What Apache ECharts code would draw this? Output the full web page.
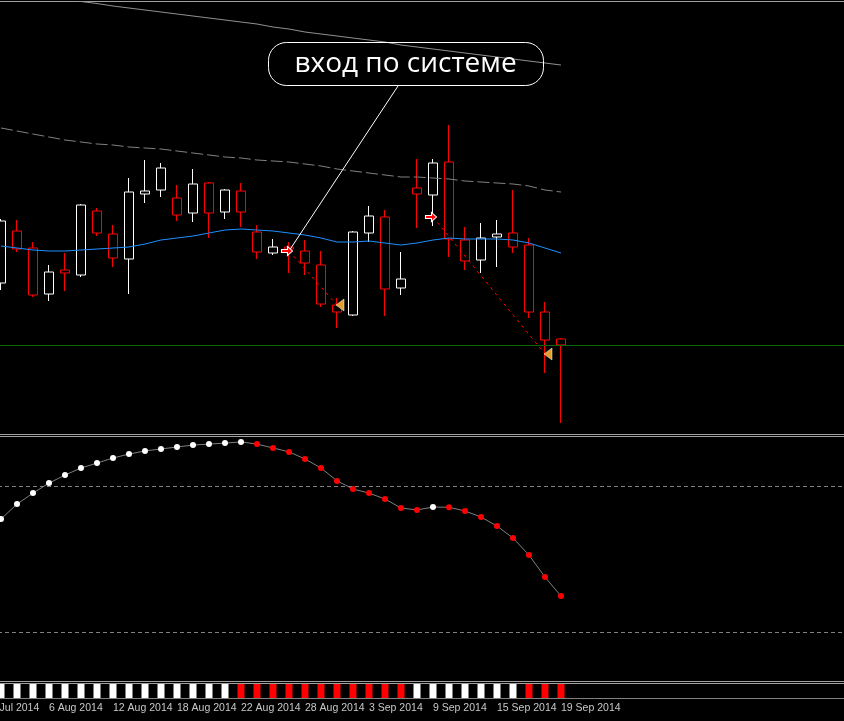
<!DOCTYPE html>
<html>
<head>
<meta charset="utf-8">
<script src="https://cdn.jsdelivr.net/npm/echarts@6/dist/echarts.min.js"></script>
<style>
  html, body { margin: 0; padding: 0; background: #000; }
  #main { width: 844px; height: 721px; }
</style>
</head>
<body>
<div id="main"></div>
<script>
// daily bars, 31 Jul is only there for the cut label on the left
var dates = ['31 Jul 2014', '1 Aug 2014', '4 Aug 2014', '5 Aug 2014', '6 Aug 2014', '7 Aug 2014', '8 Aug 2014',
  '11 Aug 2014', '12 Aug 2014', '13 Aug 2014', '14 Aug 2014', '15 Aug 2014',
  '18 Aug 2014', '19 Aug 2014', '20 Aug 2014', '21 Aug 2014', '22 Aug 2014',
  '25 Aug 2014', '26 Aug 2014', '27 Aug 2014', '28 Aug 2014', '29 Aug 2014',
  '1 Sep 2014', '2 Sep 2014', '3 Sep 2014', '4 Sep 2014', '5 Sep 2014',
  '8 Sep 2014', '9 Sep 2014', '10 Sep 2014', '11 Sep 2014', '12 Sep 2014',
  '15 Sep 2014', '16 Sep 2014', '17 Sep 2014', '18 Sep 2014', '19 Sep 2014'];

// prices in points, 1 Aug .. 19 Sep
var open  = [151, 203, 186, 140, 164, 159, 223, 200, 175, 240, 244, 236, 221, 251, 222, 243, 202, 181, 187, 183,
             169, 129, 119, 201, 217, 146, 246, 239, 272, 194, 174, 197, 201, 189, 122, 95];
var close = [213, 185, 139, 162, 161, 229, 201, 176, 242, 243, 266, 219, 250, 221, 244, 222, 182, 187, 185, 171,
             130, 122, 202, 218, 145, 155, 240, 271, 195, 173, 196, 200, 187, 122, 94, 89];
var low   = [144, 182, 137, 133, 143, 157, 198, 167, 140, 231, 237, 213, 212, 196, 215, 207, 175, 179, 161, 159,
             127, 106, 118, 192, 118, 139, 206, 208, 177, 164, 161, 167, 181, 116, 61, 11];
var high  = [215, 214, 192, 169, 181, 230, 226, 209, 256, 274, 271, 249, 265, 252, 245, 251, 209, 195, 192, 194,
             183, 136, 203, 228, 224, 182, 275, 275, 309, 207, 211, 214, 244, 196, 132, 96];

// moving averages
var maFast = [188, 186, 184, 183, 183, 184, 185, 186, 187, 190, 194, 196, 198, 201, 204, 205, 204, 203, 201, 199,
              196, 192, 192, 193, 191, 189, 191, 194, 196, 195, 195, 195, 194, 191, 186, 181];
var maMid  = [306, 303, 300, 297, 294, 292, 290, 289, 287, 286, 285, 283, 281, 279, 277, 276, 274, 273, 272, 270,
              268, 265, 263, 261, 259, 257, 257, 256, 255, 253, 252, 251, 250, 248, 244, 242];
var maSlow = [442, 440, 438, 437, 435, 432.5, 430.5, 428, 426, 424, 422, 420, 418, 416, 414, 412, 410, 407, 405, 402,
              400, 398, 396, 394, 392, 389, 387, 385, 383, 381, 379, 377, 375, 373, 371, 369];
var bid = 89;

// trades (sell): open and close
var tradeOpenDate   = ['27 Aug 2014', '9 Sep 2014'];
var tradeOpenPrice  = [183, 217];
var tradeCloseDate  = ['1 Sep 2014', '18 Sep 2014'];
var tradeClosePrice = [129, 80];

// oscillator 0..100 with levels
var osc = [66.4, 72.5, 77.0, 81.1, 84.4, 87.3, 89.3, 91.4, 93.0, 94.3, 95.1, 95.9, 96.7, 97.1, 97.5, 98.0, 97.1, 95.5,
           93.9, 91.0, 87.3, 82.0, 78.7, 77.0, 74.6, 70.9, 70.1, 71.3, 71.2, 69.7, 67.2, 63.5, 58.6, 51.6, 42.6, 34.8];
var oscState = [1, 1, 1, 1, 1, 1, 1, 1, 1, 1, 1, 1, 1, 1, 1, 1, -1, -1, -1, -1, -1, -1, -1, -1, -1, -1, -1,
                1, -1, -1, -1, -1, -1, -1, -1, -1];
var oscLevels = [80, 20];

// trend strip at the bottom
var stripSignal = [1, 1, 1, 1, 1, 1, 1, 1, 1, 1, 1, 1, 1, 1, 1, -1, -1, -1, -1, -1, -1, -1, -1, -1, -1, -1,
                   1, 1, 1, 1, 1, 1, 1, -1, -1, -1];

// empty slots on the right of the last bar
var slots = dates.concat(new Array(18).fill(''));

var candles = [['-', '-', '-', '-']];
for (var i = 0; i < open.length; i++) {
  candles.push([open[i], close[i], low[i], high[i]]);
}
function pad(arr) { return ['-'].concat(arr); }

var oscData = ['-'];
for (var i = 0; i < osc.length; i++) {
  oscData.push({ value: osc[i], itemStyle: { color: oscState[i] > 0 ? '#ffffff' : '#ff0000' } });
}
var stripData = ['-'];
for (var i = 0; i < stripSignal.length; i++) {
  stripData.push({ value: 1, itemStyle: { color: stripSignal[i] > 0 ? '#ffffff' : '#ff0000' } });
}

var tradeLines = [], tradeMarks = [];
for (var i = 0; i < tradeOpenDate.length; i++) {
  tradeLines.push([
    { coord: [tradeOpenDate[i], tradeOpenPrice[i]], lineStyle: { color: '#ff0000', type: [3, 4], width: 1 } },
    { coord: [tradeCloseDate[i], tradeClosePrice[i]] }
  ]);
  tradeMarks.push({
    coord: [tradeOpenDate[i], tradeOpenPrice[i]],
    symbol: 'path://M0,3L6,3L6,0L11,4.5L6,9L6,6L0,6Z', symbolSize: [11, 9], symbolOffset: [-2, 0],
    itemStyle: { color: '#ff0000', borderColor: '#ffffff', borderWidth: 1 }
  });
  tradeMarks.push({
    coord: [tradeCloseDate[i], tradeClosePrice[i]],
    symbol: 'triangle', symbolRotate: 90, symbolSize: [12, 8], symbolOffset: [3, 0],
    itemStyle: { color: '#e0a030', borderColor: '#fff4d0', borderWidth: 0.5 }
  });
}
// callout from the text box to the first entry
tradeLines.push([
  { coord: [tradeOpenDate[0], tradeOpenPrice[0]], lineStyle: { color: '#ffffff', type: 'solid', width: 1 } },
  { x: 398, y: 86 }
]);

var gridW = slots.length * 16;
var myChart = echarts.init(document.getElementById('main'));
var option = {
  backgroundColor: '#000',
  animation: false,
  grid: [
    { left: -23, top: 2, width: gridW, height: 432, outerBoundsMode: 'none', containLabel: false },
    { left: -23, top: 437, width: gridW, height: 244, outerBoundsMode: 'none', containLabel: false },
    { left: -23, top: 684, width: gridW, height: 14, outerBoundsMode: 'none', containLabel: false }
  ],
  xAxis: [
    { type: 'category', gridIndex: 0, data: slots, show: false },
    { type: 'category', gridIndex: 1, data: slots, show: false },
    {
      type: 'category', gridIndex: 2, data: slots,
      axisLine: { lineStyle: { color: '#808080', width: 1 } },
      axisTick: {
        alignWithLabel: true, length: 4, lineStyle: { color: '#808080' },
        interval: function (idx, val) { return idx % 4 === 0 && val !== ''; }
      },
      axisLabel: {
        color: '#c8c8c8', fontFamily: 'Liberation Sans', fontSize: 10.5, align: 'left', margin: 5,
        hideOverlap: false,
        interval: function (idx, val) { return idx % 4 === 0 && val !== ''; }
      }
    }
  ],
  yAxis: [
    { type: 'value', gridIndex: 0, min: 0, max: 432, show: false },
    { type: 'value', gridIndex: 1, min: 0, max: 100, show: false },
    { type: 'value', gridIndex: 2, min: 0, max: 1, show: false }
  ],
  series: [
    {
      type: 'line', xAxisIndex: 0, yAxisIndex: 0, data: pad(maSlow), symbol: 'none',
      lineStyle: { color: '#909090', width: 1 }
    },
    {
      type: 'line', xAxisIndex: 0, yAxisIndex: 0, data: pad(maMid), symbol: 'none',
      lineStyle: { color: '#808080', width: 1, type: [12, 4] }
    },
    {
      type: 'line', xAxisIndex: 0, yAxisIndex: 0, data: pad(maFast), symbol: 'none',
      lineStyle: { color: '#1e90ff', width: 1 },
      markLine: {
        silent: true, symbol: ['none', 'none'], label: { show: false },
        lineStyle: { color: '#0a6a0a', type: 'solid', width: 1 },
        data: [{ yAxis: bid }]
      }
    },
    {
      type: 'candlestick', xAxisIndex: 0, yAxisIndex: 0, data: candles, barWidth: 9,
      itemStyle: { color: '#000', color0: '#000', borderColor: '#ffffff', borderColor0: '#ff0000', borderWidth: 1 },
      markLine: {
        silent: true, symbol: ['none', 'none'], label: { show: false },
        data: tradeLines
      },
      markPoint: {
        silent: true, label: { show: false },
        data: tradeMarks
      }
    },
    {
      type: 'line', xAxisIndex: 1, yAxisIndex: 1, data: oscData,
      symbol: 'circle', symbolSize: 6, showAllSymbol: true,
      lineStyle: { color: '#808080', width: 1 },
      markLine: {
        silent: true, symbol: ['none', 'none'], label: { show: false },
        lineStyle: { color: '#808080', type: [4, 3], width: 1 },
        data: oscLevels.map(function (v) { return { yAxis: v }; })
      }
    },
    {
      type: 'bar', xAxisIndex: 2, yAxisIndex: 2, data: stripData, barWidth: 7
    }
  ],
  graphic: [
    // panel borders
    { type: 'line', shape: { x1: 0, y1: 1.5, x2: 844, y2: 1.5 }, style: { stroke: '#a0a0a0', lineWidth: 1 } },
    { type: 'line', shape: { x1: 0, y1: 434.5, x2: 844, y2: 434.5 }, style: { stroke: '#a0a0a0', lineWidth: 1 } },
    { type: 'line', shape: { x1: 0, y1: 436.5, x2: 844, y2: 436.5 }, style: { stroke: '#a0a0a0', lineWidth: 1 } },
    { type: 'line', shape: { x1: 0, y1: 681.5, x2: 844, y2: 681.5 }, style: { stroke: '#a0a0a0', lineWidth: 1 } },
    { type: 'line', shape: { x1: 0, y1: 683.5, x2: 844, y2: 683.5 }, style: { stroke: '#a0a0a0', lineWidth: 1 } },
    // text label
    {
      type: 'rect', shape: { x: 268.5, y: 42.5, width: 275, height: 43, r: 18 },
      style: { fill: 'none', stroke: '#ffffff', lineWidth: 1 }, z: 10
    },
    {
      type: 'text', x: 405.5, y: 64, z: 10,
      style: {
        text: 'вход по системе', fill: '#ffffff', font: '28px "Open Sans"',
        textAlign: 'center', textVerticalAlign: 'middle'
      }
    }
  ]
};
myChart.setOption(option);
</script>
</body>
</html>
